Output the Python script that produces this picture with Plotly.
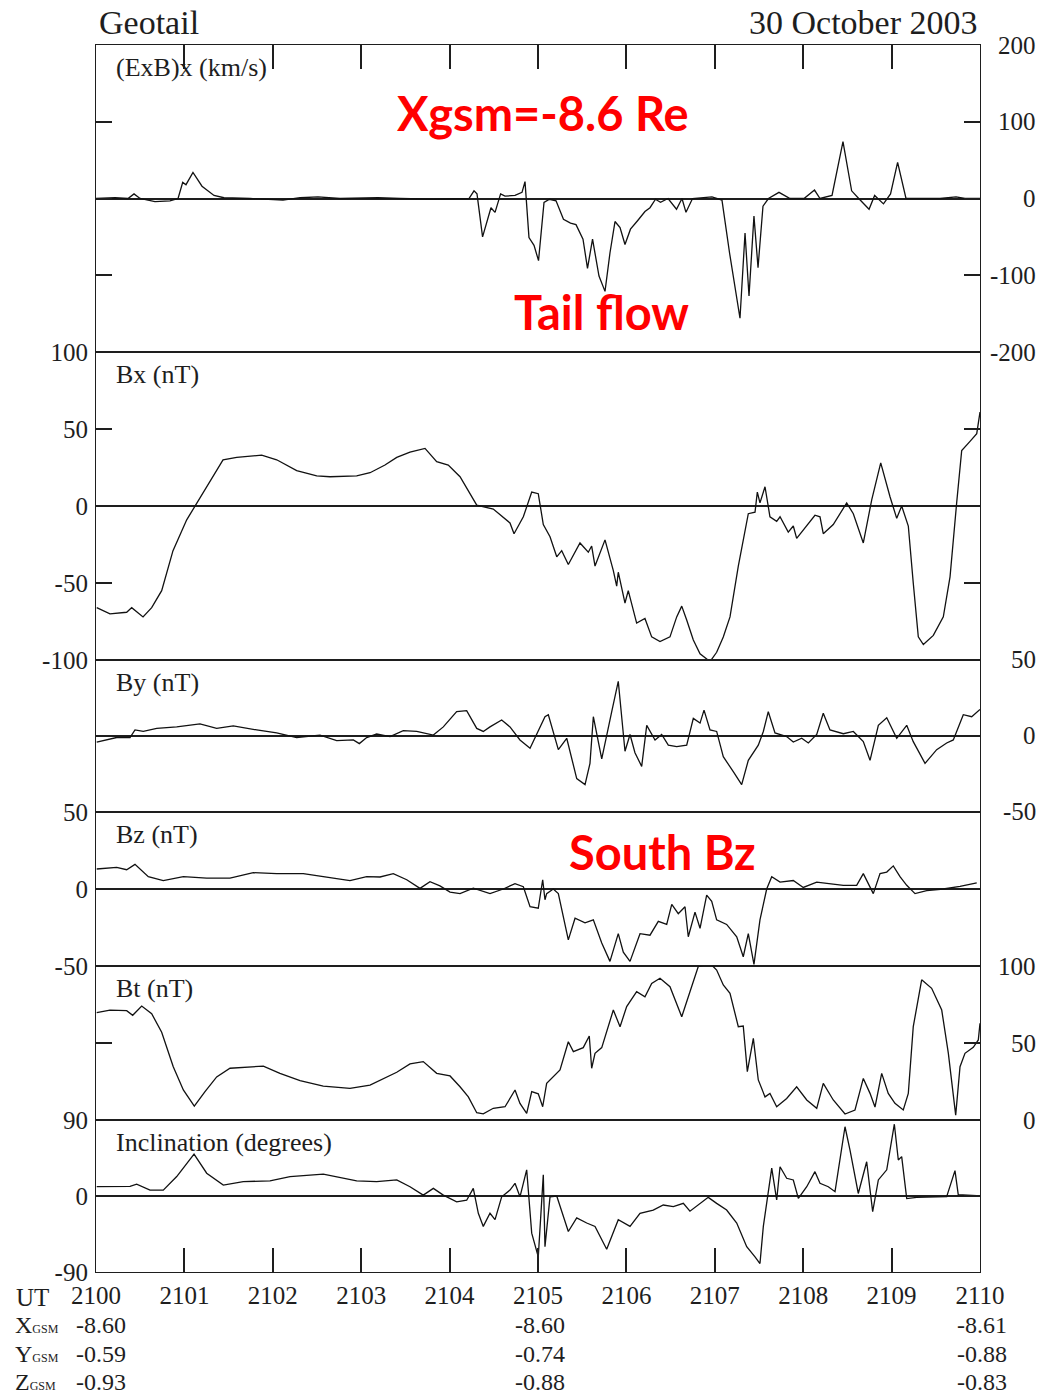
import plotly.graph_objects as go

# ---------------- data (time = minutes after 21:00 UT) ----------------
t_exb = [0.000, 0.215, 0.362, 0.430, 0.498, 0.667, 0.837, 0.928, 0.981, 1.018,
         1.097, 1.199, 1.335, 1.448, 1.742, 2.115, 2.308, 2.511, 2.760, 3.020,
         3.190, 3.439, 3.801, 4.219, 4.276, 4.310, 4.373, 4.468, 4.514, 4.577,
         4.627, 4.740, 4.819, 4.853, 4.898, 4.955, 5.006, 5.068, 5.130, 5.204,
         5.288, 5.368, 5.430, 5.509, 5.560, 5.617, 5.690, 5.758, 5.814, 5.871,
         5.928, 5.984, 6.046, 6.126, 6.210, 6.267, 6.329, 6.386, 6.471, 6.567,
         6.629, 6.674, 6.748, 6.968, 7.081, 7.167, 7.229, 7.285, 7.342, 7.387,
         7.443, 7.489, 7.545, 7.607, 7.726, 7.851, 8.009, 8.128, 8.190, 8.326,
         8.450, 8.548, 8.628, 8.745, 8.808, 8.908, 8.988, 9.068, 9.163, 9.248,
         9.548, 9.729, 9.830, 10.000]
v_exb = [0, 1, 0, 6, 0, -4, -3, 0, 21, 18,
         34, 16, 4, 1, 0, -2, 1, 2, 0, 1,
         1, 0, -1, 0, 10, 6, -50, -12, -18, 6,
         3, 4, 8, 22, -51, -61, -81, -5, -1, -3,
         -27, -32, -34, -53, -91, -53, -101, -121, -71, -30,
         -38, -60, -40, -29, -17, -12, -1, -5, 0, -14,
         0, -18, 0, 2, -2, -71, -114, -156, -45, -127,
         -23, -90, -10, 0, 8, 0, 0, 11, 0, 4,
         74, 10, 0, -14, 4, -7, 6, 47, 0, 0,
         0, 2, 0, 0]

t_bx = [0.008, 0.158, 0.347, 0.404, 0.532, 0.630, 0.743, 0.871, 1.026, 1.120,
        1.252, 1.437, 1.592, 1.874, 2.044, 2.270, 2.497, 2.647, 2.949, 3.100,
        3.269, 3.402, 3.552, 3.722, 3.854, 3.985, 4.118, 4.307, 4.494, 4.683,
        4.729, 4.834, 4.929, 5.003, 5.060, 5.136, 5.212, 5.268, 5.343, 5.475,
        5.569, 5.607, 5.645, 5.758, 5.852, 5.890, 5.908, 5.984, 6.021, 6.116,
        6.210, 6.286, 6.380, 6.493, 6.569, 6.626, 6.682, 6.757, 6.833, 6.946,
        7.021, 7.096, 7.172, 7.266, 7.379, 7.455, 7.481, 7.511, 7.568, 7.624,
        7.700, 7.738, 7.831, 7.888, 7.926, 8.040, 8.133, 8.190, 8.227, 8.340,
        8.416, 8.492, 8.567, 8.680, 8.775, 8.877, 8.982, 9.058, 9.114, 9.189,
        9.245, 9.302, 9.359, 9.472, 9.585, 9.661, 9.736, 9.793, 9.887, 9.963,
        10.000]
v_bx = [-66, -70, -69, -66, -72, -66, -55, -29, -9, 0,
        12.5, 30, 31.6, 33, 30, 23, 19.5, 19, 19.5, 21.6,
        26.6, 31.6, 35, 37.4, 28.8, 26.6, 19, 0.6, -2, -11,
        -18, -7, 9, 8, -12, -20, -33, -29, -38, -24,
        -30, -26, -39, -22, -42, -52, -43, -63, -55, -76,
        -73, -85, -88, -85, -72, -65, -74, -87, -96, -101,
        -95, -85, -72, -39, -5, -4, 9, 2, 12.5, -7,
        -10, -7, -17, -13, -21, -13, -6, -7, -18, -12,
        -5, 2, -5, -24, 4, 28, 6, -8, 0, -13,
        -50, -85, -90, -84, -72, -46, 2, 36, 42, 47,
        61]

t_by = [0.008, 0.234, 0.385, 0.441, 0.535, 0.687, 0.913, 1.176, 1.365, 1.553,
        1.818, 2.044, 2.270, 2.534, 2.723, 2.911, 2.979, 3.062, 3.175, 3.326,
        3.476, 3.628, 3.816, 3.929, 4.080, 4.193, 4.307, 4.381, 4.457, 4.589,
        4.683, 4.796, 4.910, 5.003, 5.079, 5.117, 5.230, 5.325, 5.438, 5.532,
        5.588, 5.626, 5.721, 5.834, 5.908, 5.984, 6.041, 6.097, 6.173, 6.230,
        6.324, 6.399, 6.474, 6.569, 6.682, 6.757, 6.833, 6.878, 6.946, 7.021,
        7.096, 7.209, 7.304, 7.379, 7.492, 7.549, 7.605, 7.681, 7.813, 7.888,
        7.983, 8.058, 8.153, 8.227, 8.303, 8.454, 8.567, 8.680, 8.756, 8.850,
        8.945, 9.058, 9.171, 9.245, 9.378, 9.510, 9.623, 9.698, 9.811, 9.906,
        10.000]
v_by = [-4, -1, -1, 4, 3, 5, 6, 8, 5, 6.6,
        4, 2, -1, 0.6, -3, -2.6, -5, -1, 1.3, -0.4,
        3.5, 3, 0.6, 6, 16, 16.7, 5, 3, 6, 10.5,
        6, -2.6, -8, 3, 12.7, 14, -9, -1.5, -28, -32,
        -18, 12.7, -15, 16, 36, -10, 1, -11, -20, 7,
        -2.6, 1, -6, -7, -6, 11.6, 8.5, 17, 4, 3,
        -13.6, -23.5, -32, -16, -6, 3, 16, 2, -0.4, -4,
        -1.5, -4.6, 1, 15, 4, 1.5, 3, -3.7, -16, 7,
        12, -1.5, 7, -3.7, -18, -9, -4.6, -2.6, 14, 12.7,
        17.5]

t_bz = [0.008, 0.234, 0.347, 0.441, 0.592, 0.761, 0.988, 1.252, 1.516, 1.779,
        2.044, 2.345, 2.571, 2.873, 3.062, 3.213, 3.363, 3.515, 3.665, 3.778,
        3.891, 4.005, 4.118, 4.268, 4.457, 4.607, 4.740, 4.834, 4.910, 5.003,
        5.053, 5.079, 5.098, 5.173, 5.230, 5.343, 5.419, 5.532, 5.626, 5.721,
        5.814, 5.908, 5.965, 6.041, 6.154, 6.267, 6.361, 6.456, 6.513, 6.587,
        6.663, 6.700, 6.776, 6.833, 6.908, 6.965, 7.021, 7.134, 7.248, 7.322,
        7.379, 7.443, 7.511, 7.587, 7.644, 7.738, 7.888, 8.001, 8.153, 8.303,
        8.454, 8.605, 8.680, 8.793, 8.869, 8.945, 9.019, 9.095, 9.171, 9.265,
        9.397, 9.585, 9.774, 9.963]
v_bz = [13, 14, 12.5, 16, 8, 5.4, 8, 7, 7, 10.6,
        10, 10, 8, 5.4, 8, 7.8, 10, 6, 0.4, 4.7,
        2, -2, -3, 0.6, -3, 0, 3.5, 1.5, -11.5, -12.5,
        6, -7, -3, 0, -3, -33, -19, -22, -20, -35,
        -47, -29, -41, -47, -29, -30, -21, -23, -10, -16,
        -11.5, -31, -15, -25.5, -4, -8, -20, -23, -31, -44,
        -29, -49, -20, 0, 8, 4.5, 5.5, 1, 4.5, 3.5,
        2.4, 2.4, 10, -3, 10, 11, 15, 8, 2.4, -3,
        -1, 0, 1.7, 4]

t_bt = [0.008, 0.158, 0.347, 0.415, 0.517, 0.630, 0.743, 0.874, 0.988, 1.112,
        1.233, 1.365, 1.516, 1.742, 1.893, 2.081, 2.308, 2.571, 2.873, 3.100,
        3.250, 3.402, 3.552, 3.702, 3.854, 4.005, 4.118, 4.212, 4.307, 4.381,
        4.494, 4.627, 4.740, 4.796, 4.872, 4.929, 5.003, 5.053, 5.098, 5.249,
        5.343, 5.400, 5.512, 5.580, 5.607, 5.645, 5.721, 5.777, 5.852, 5.928,
        6.003, 6.116, 6.210, 6.286, 6.380, 6.493, 6.626, 6.719, 6.813, 6.946,
        7.021, 7.096, 7.172, 7.266, 7.322, 7.368, 7.436, 7.492, 7.568, 7.624,
        7.700, 7.813, 7.926, 8.040, 8.153, 8.227, 8.340, 8.473, 8.586, 8.680,
        8.756, 8.812, 8.888, 8.962, 9.038, 9.132, 9.189, 9.245, 9.340, 9.453,
        9.567, 9.642, 9.725, 9.774, 9.830, 9.924, 9.981, 10.000]
v_bt = [69.7, 71.4, 71, 68, 74, 69, 57, 34.6, 19.5, 9,
        18.4, 28, 33.6, 34.6, 35, 30.3, 25.5, 22, 20.6, 22.7,
        27, 31, 36.4, 37.9, 30.3, 28.6, 21.6, 15, 4.7, 4,
        7.6, 8.6, 19.5, 10.8, 4.3, 18.4, 17, 8.6, 23.8, 32.5,
        50.8, 44.4, 47, 54.5, 33.6, 43.3, 47, 57.4, 71.4, 60.6,
        73.6, 83.3, 80, 88.7, 92, 86.6, 67, 83.3, 99.6, 101.7,
        97.4, 87.7, 82.3, 60.6, 61, 31.4, 53, 26, 15, 17.3,
        8.6, 14, 21.6, 13, 7.6, 23.8, 13, 3.9, 6.5, 27,
        17.3, 8.4, 30.3, 17.3, 10.8, 6.5, 17.3, 60.6, 91, 85.5,
        71.4, 43.3, 3.2, 34.6, 43.3, 47.2, 52, 62.8]

t_inc = [0.008, 0.385, 0.460, 0.611, 0.761, 0.913, 1.109, 1.252, 1.440, 1.666,
         1.968, 2.195, 2.571, 2.797, 2.949, 3.175, 3.402, 3.552, 3.702, 3.816,
         3.929, 4.080, 4.193, 4.268, 4.325, 4.381, 4.457, 4.514, 4.589, 4.683,
         4.740, 4.796, 4.872, 4.929, 5.003, 5.060, 5.079, 5.136, 5.212, 5.343,
         5.438, 5.551, 5.645, 5.777, 5.908, 6.041, 6.154, 6.304, 6.417, 6.531,
         6.644, 6.719, 6.833, 6.926, 7.021, 7.134, 7.248, 7.361, 7.455, 7.511,
         7.549, 7.605, 7.644, 7.700, 7.738, 7.813, 7.888, 7.945, 8.040, 8.133,
         8.190, 8.284, 8.360, 8.473, 8.529, 8.623, 8.718, 8.786, 8.850, 8.945,
         9.031, 9.076, 9.114, 9.171, 9.284, 9.623, 9.717, 9.754, 9.963]
v_inc = [11, 11.4, 14, 7, 7, 23, 49.7, 27, 13, 17,
         18, 23, 26, 21, 18, 17, 19, 11, 1, 9,
         1, -7, -5, 9, -20.5, -36, -20.5, -28, -1, 7,
         15, -1, 31, -44, -72, 25, -60, -1, 0, -42,
         -26, -32, -36, -63, -28, -36, -20.5, -16.6, -10.7, -12.6,
         -8.7, -18, -8.7, -1.6, -8.7, -16.6, -32, -60, -72, -80,
         -36, 3, 33, -4.7, 34.7, 21, 19, -2.8, 11, 28.8,
         15, 11, 5.1, 82, 54.5, 3, 40.6, -18.5, 19, 31,
         85, 42.6, 46.6, -3, -1.6, -0.8, 30, 1.6, 0.4]

# x tick positions / labels
ut_ticks = [0, 1, 2, 3, 4, 5, 6, 7, 8, 9, 10]
ut_labels = ["2100", "2101", "2102", "2103", "2104", "2105",
             "2106", "2107", "2108", "2109", "2110"]

# orbit rows
orbit_times = [0, 5, 10]
x_gsm = ["-8.60", "-8.60", "-8.61"]
y_gsm = ["-0.59", "-0.74", "-0.88"]
z_gsm = ["-0.93", "-0.88", "-0.83"]

# panel y ticks
ticks_exb = [200, 100, 0, -100, -200]
ticks_bx = [100, 50, 0, -50, -100]
ticks_by = [50, 0, -50]
ticks_bz = [50, 0, -50]
ticks_bt = [100, 50, 0]
ticks_inc = [90, 0, -90]

panels = [
    dict(label="(ExB)x (km/s)", t=t_exb, v=v_exb, rng=[-200, 200], ticks=ticks_exb, side="right"),
    dict(label="Bx (nT)", t=t_bx, v=v_bx, rng=[-100, 100], ticks=ticks_bx, side="left"),
    dict(label="By (nT)", t=t_by, v=v_by, rng=[-50, 50], ticks=ticks_by, side="right"),
    dict(label="Bz (nT)", t=t_bz, v=v_bz, rng=[-50, 50], ticks=ticks_bz, side="left"),
    dict(label="Bt (nT)", t=t_bt, v=v_bt, rng=[0, 100], ticks=ticks_bt, side="right"),
    dict(label="Inclination (degrees)", t=t_inc, v=v_inc, rng=[-90, 90], ticks=ticks_inc, side="left"),
]

# ---------------- styling ----------------
SERIF = "Liberation Serif, Times New Roman, serif"
INK = "#1e1e1e"
W, H = 1055, 1398
ML, MR, MT, MB = 96, 75, 45, 126
PW, PH = W - ML - MR, H - MT - MB
heights = [307, 308, 152, 154, 154, 152]
total = float(sum(heights))
FRAME_W = 1.2


def py_to_paper(py):
    return (H - MB - py) / PH


def px_to_paper(px):
    return (px - ML) / PW


fig = go.Figure()
annotations = []
layout = {}
top = 1.0
for i, p in enumerate(panels):
    n = i + 1
    xa = "x" if n == 1 else f"x{n}"
    ya = "y" if n == 1 else f"y{n}"
    bot = max(top - heights[i] / total, 0.0)

    fig.add_trace(go.Scatter(
        x=p["t"], y=p["v"], mode="lines",
        line=dict(color="#111111", width=1.3),
        xaxis=xa, yaxis=ya, showlegend=False, hoverinfo="skip"))

    xdict = dict(domain=[0, 1], anchor=ya, range=[0, 10],
                 showline=True, mirror=True, linecolor=INK, linewidth=FRAME_W,
                 showgrid=False, zeroline=False, tickvals=ut_ticks,
                 ticks="", showticklabels=False)
    if n == 1:
        xdict.update(side="top", ticks="inside", ticklen=24, tickwidth=1.5, tickcolor=INK)
    else:
        xdict.update(matches="x")
    if n == 6:
        xdict.update(ticks="inside", ticklen=24, tickwidth=1.5, tickcolor=INK,
                     showticklabels=True, ticktext=ut_labels,
                     tickfont=dict(family=SERIF, size=25, color=INK),
                     ticklabelstandoff=1)
    layout["xaxis" if n == 1 else f"xaxis{n}"] = xdict

    ydict = dict(domain=[bot, top], anchor=xa, range=p["rng"],
                 showline=True, mirror="ticks", linecolor=INK, linewidth=FRAME_W,
                 showgrid=False, zeroline=True, zerolinecolor=INK, zerolinewidth=1.5,
                 tickvals=p["ticks"], ticks="inside", ticklen=16, tickwidth=1.5,
                 tickcolor=INK, side="left")
    if p["side"] == "left":
        ydict.update(showticklabels=True, ticktext=[str(v) for v in p["ticks"]],
                     tickfont=dict(family=SERIF, size=25, color=INK),
                     ticklabelstandoff=2)
    else:
        ydict.update(showticklabels=False)
        for v in p["ticks"]:
            annotations.append(dict(
                text=str(v), xref=f"{xa} domain", x=1, xshift=58, xanchor="right",
                yref=ya, y=v, yanchor="middle", showarrow=False,
                font=dict(family=SERIF, size=25, color=INK)))
    layout["yaxis" if n == 1 else f"yaxis{n}"] = ydict

    annotations.append(dict(
        text=p["label"], xref=f"{xa} domain", yref=f"{ya} domain",
        x=0.02, y=1, xanchor="left", yanchor="top", yshift=-6, showarrow=False,
        font=dict(family=SERIF, size=26, color=INK)))
    top = bot

# titles
annotations.append(dict(text="Geotail", xref="paper", yref="paper", x=px_to_paper(97), y=py_to_paper(22),
                        xanchor="left", yanchor="middle", showarrow=False,
                        font=dict(family=SERIF, size=34, color=INK)))
annotations.append(dict(text="30 October 2003", xref="paper", yref="paper", x=1.0, y=py_to_paper(22),
                        xanchor="right", yanchor="middle", showarrow=False,
                        font=dict(family=SERIF, size=34, color=INK)))

# red callouts
RED = "#ff0000"
SANS = "Lato, Liberation Sans, Arial, sans-serif"
for txt, cx, cy in [("Xgsm=-8.6 Re", 543, 113),
                    ("Tail flow", 601, 312),
                    ("South Bz", 662, 852)]:
    annotations.append(dict(text=f"<b>{txt}</b>", xref="paper", yref="paper",
                            x=px_to_paper(cx), y=py_to_paper(cy),
                            xanchor="center", yanchor="middle", showarrow=False,
                            font=dict(family=SANS, size=47, color=RED)))

# bottom label rows
ROWF = 24
annotations.append(dict(text="UT", xref="paper", yref="paper", x=px_to_paper(14), y=py_to_paper(1297),
                        xanchor="left", yanchor="middle", showarrow=False,
                        font=dict(family=SERIF, size=25, color=INK)))
row_py = [1325, 1354, 1382]
row_names = ["X", "Y", "Z"]
for rpy, nm, vals in zip(row_py, row_names, [x_gsm, y_gsm, z_gsm]):
    ry = py_to_paper(rpy)
    annotations.append(dict(text=f"{nm}<span style='font-size:12px'>GSM</span>",
                            xref="paper", yref="paper", x=px_to_paper(13), y=ry,
                            xanchor="left", yanchor="middle", showarrow=False,
                            font=dict(family=SERIF, size=ROWF, color=INK)))
    for tt, vv in zip(orbit_times, vals):
        annotations.append(dict(text=vv, xref="x6", yref="paper", x=tt, y=ry,
                                xanchor="center", yanchor="middle", showarrow=False,
                                xshift=5 if tt == 0 else 2,
                                font=dict(family=SERIF, size=ROWF, color=INK)))

fig.update_layout(
    width=W, height=H, autosize=False,
    margin=dict(l=ML, r=MR, t=MT, b=MB, pad=0),
    paper_bgcolor="white", plot_bgcolor="white",
    showlegend=False, annotations=annotations,
    font=dict(family=SERIF, color=INK),
    **layout)

fig.write_html("out.html", include_plotlyjs=True, config={"displayModeBar": False})
